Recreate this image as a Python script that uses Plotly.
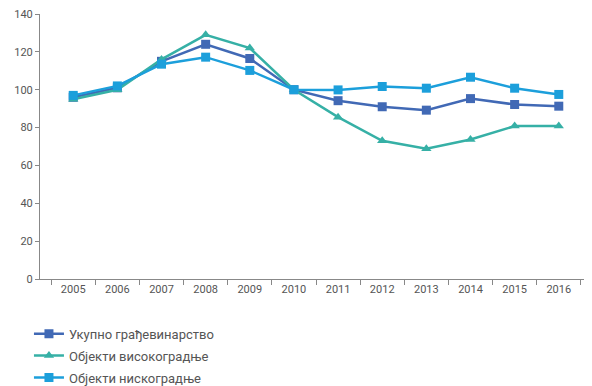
import plotly.graph_objects as go

years = ['2005', '2006', '2007', '2008', '2009', '2010',
         '2011', '2012', '2013', '2014', '2015', '2016']
ukupno = [96, 101, 115, 124, 116.5, 100, 94.2, 91.0, 89.2, 95.3, 92.2, 91.3]
visokogradnja = [95, 100, 116, 129, 122, 100, 85.5, 73, 68.8, 73.7, 80.8, 80.8]
niskogradnja = [97, 102, 113.5, 117.2, 110.2, 100, 99.9, 101.7, 100.8, 106.6, 100.8, 97.5]
y_ticks = [0, 20, 40, 60, 80, 100, 120, 140]

fig = go.Figure()

# серије
fig.add_trace(go.Scatter(
    x=years, y=ukupno, name='Укупно грађевинарство', legendgroup='a',
    mode='lines+markers',
    line=dict(color='#4169b5', width=2.5),
    marker=dict(symbol='square', size=9, color='#4169b5')
))
fig.add_trace(go.Scatter(
    x=years, y=visokogradnja, name='Објекти високоградње', legendgroup='b',
    mode='lines+markers',
    line=dict(color='#36b0a6', width=2.5),
    marker=dict(symbol='triangle-up', size=9, color='#36b0a6')
))
fig.add_trace(go.Scatter(
    x=years, y=niskogradnja, name='Објекти нискоградње', legendgroup='c',
    mode='lines+markers',
    line=dict(color='#1c9fdb', width=2.5),
    marker=dict(symbol='square', size=9, color='#1c9fdb')
))

# страница има 8px маргину, па је слика 584x378
fig.update_layout(
    width=584, height=378,
    margin=dict(l=32, r=0, t=6, b=107, autoexpand=False),
    plot_bgcolor='white',
    paper_bgcolor='white',
    font=dict(family='Roboto', size=11, color='#555555'),
    showlegend=True,
    legend=dict(
        orientation='v', x=-0.02, xanchor='left', y=-0.15, yanchor='top',
        font=dict(size=13, color='#555555'),
        tracegroupgap=2,
        bgcolor='rgba(0,0,0,0)'
    )
)

fig.update_xaxes(
    type='category', automargin=False,
    showline=True, linecolor='#888888', linewidth=1,
    ticks='outside', ticklen=5, tickcolor='#888888',
    tickson='boundaries',
    showgrid=False, zeroline=False
)
fig.update_yaxes(
    range=[0, 140], tickvals=y_ticks, automargin=False,
    ticklabeloverflow='allow',
    showline=True, linecolor='#888888', linewidth=1,
    ticks='outside', ticklen=4, tickcolor='#888888',
    showgrid=False, zeroline=False
)

fig.write_html("out.html")
